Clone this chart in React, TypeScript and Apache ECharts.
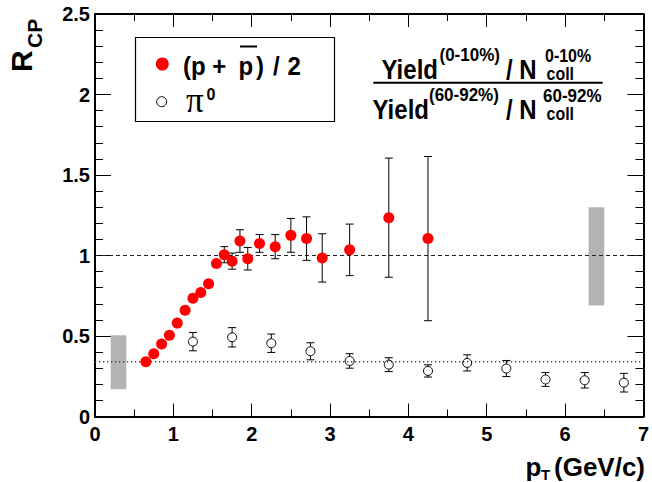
import React, { useEffect, useRef } from "react";
import * as echarts from "echarts";

// (p + pbar)/2 R_CP
const protonPt = [0.65, 0.75, 0.85, 0.95, 1.05, 1.15, 1.25, 1.35, 1.45, 1.55, 1.65, 1.75, 1.85, 1.95, 2.1, 2.3, 2.5, 2.7, 2.9, 3.25, 3.75, 4.25];
const protonRcp = [0.34, 0.39, 0.45, 0.505, 0.58, 0.66, 0.735, 0.77, 0.825, 0.95, 1.005, 0.965, 1.09, 0.98, 1.075, 1.055, 1.125, 1.105, 0.985, 1.035, 1.235, 1.105];
const protonErr = [0, 0, 0, 0, 0, 0, 0, 0, 0, 0, 0.05, 0.05, 0.07, 0.07, 0.055, 0.075, 0.105, 0.135, 0.15, 0.16, 0.37, 0.51];

// pi0 R_CP
const pi0Pt = [1.25, 1.75, 2.25, 2.75, 3.25, 3.75, 4.25, 4.75, 5.25, 5.75, 6.25, 6.75];
const pi0Rcp = [0.465, 0.492, 0.455, 0.405, 0.345, 0.322, 0.283, 0.333, 0.298, 0.23, 0.225, 0.21];
const pi0Err = [0.057, 0.06, 0.057, 0.053, 0.045, 0.043, 0.038, 0.05, 0.05, 0.043, 0.048, 0.058];

// systematic (normalisation) boxes
const boxXLow = [0.2, 6.3];
const boxXHigh = [0.4, 6.5];
const boxYLow = [0.17, 0.69];
const boxYHigh = [0.505, 1.3];

// reference lines
const dashedLevel = 1;
const dottedLevel = 0.34;

const xMin = 0, xMax = 7, xStep = 1;
const yMin = 0, yMax = 2.5, yStep = 0.5;

const SANS = "Liberation Sans";

function txt(text: string, x: number, y: number, size: number, extra: any = {}) {
  return {
    type: "text",
    x,
    y,
    z: 20,
    scaleY: extra.sy || 1,
    scaleX: extra.sx || 1,
    style: {
      text,
      fill: "#000",
      fontSize: size,
      fontWeight: extra.weight || "bold",
      fontFamily: extra.family || SANS,
      align: "left",
      verticalAlign: "middle",
      textAlign: "left",
      textVerticalAlign: "middle",
    },
  };
}

function errorBars(gap: number, capHalf: number) {
  return (_params: any, api: any) => {
    const x = api.value(0);
    const y = api.value(1);
    const e = api.value(2);
    if (!(e > 0)) return null;
    const c = api.coord([x, y]);
    const top = api.coord([x, y + e]);
    const bot = api.coord([x, y - e]);
    const style = { stroke: "#000", lineWidth: 1 };
    const children: any[] = [];
    if (c[1] - gap > top[1]) {
      children.push({ type: "line", shape: { x1: c[0], y1: top[1], x2: c[0], y2: c[1] - gap }, style });
    }
    if (bot[1] > c[1] + gap) {
      children.push({ type: "line", shape: { x1: c[0], y1: c[1] + gap, x2: c[0], y2: bot[1] }, style });
    }
    children.push({ type: "line", shape: { x1: c[0] - capHalf, y1: top[1], x2: c[0] + capHalf, y2: top[1] }, style });
    children.push({ type: "line", shape: { x1: c[0] - capHalf, y1: bot[1], x2: c[0] + capHalf, y2: bot[1] }, style });
    return { type: "group", children };
  };
}

export default function App() {
  const ref = useRef<HTMLDivElement>(null);

  useEffect(() => {
    if (!ref.current) return;
    const chart = echarts.init(ref.current, undefined, { renderer: "svg" });

    const axisLine = { show: true, onZero: false, lineStyle: { color: "#000", width: 2 } };
    const xCommon = {
      type: "value",
      min: xMin,
      max: xMax,
      interval: xStep,
      axisLine,
      axisTick: { show: true, inside: true, length: 13, lineStyle: { color: "#000", width: 1 } },
      minorTick: { show: true, splitNumber: 2, length: 7, lineStyle: { color: "#000", width: 1 } },
      splitLine: { show: false },
      minorSplitLine: { show: false },
    };
    const yCommon = {
      type: "value",
      min: yMin,
      max: yMax,
      interval: yStep,
      axisLine,
      axisTick: { show: true, inside: true, length: 16, lineStyle: { color: "#000", width: 1 } },
      minorTick: { show: true, splitNumber: 5, length: 8, lineStyle: { color: "#000", width: 1 } },
      splitLine: { show: false },
      minorSplitLine: { show: false },
    };
    const labelStyle = { color: "#000", fontFamily: SANS, fontWeight: "bold", fontSize: 20 };

    const protonData = protonPt.map((x, i) => [x, protonRcp[i]]);
    const protonErrData = protonPt.map((x, i) => [x, protonRcp[i], protonErr[i]]);
    const pi0Data = pi0Pt.map((x, i) => [x, pi0Rcp[i]]);
    const pi0ErrData = pi0Pt.map((x, i) => [x, pi0Rcp[i], pi0Err[i]]);
    const boxData = boxXLow.map((x, i) => [x, boxXHigh[i], boxYLow[i], boxYHigh[i]]);

    const big = { sy: 1.15 };
    const sup = { sy: 1.1 };

    const option: any = {
      animation: false,
      backgroundColor: "#fff",
      grid: { left: 95, right: 6, top: 14, bottom: 65.5, containLabel: false },
      xAxis: [
        { ...xCommon, position: "bottom", axisLabel: { ...labelStyle, margin: 7 } },
        { ...xCommon, position: "top", axisLabel: { show: false } },
      ],
      yAxis: [
        { ...yCommon, position: "left", axisLabel: { ...labelStyle, margin: 5 } },
        { ...yCommon, position: "right", axisLabel: { show: false } },
      ],
      series: [
        {
          type: "custom",
          z: 1,
          silent: true,
          data: boxData,
          encode: { x: [0, 1], y: [2, 3] },
          renderItem: (_p: any, api: any) => {
            const p0 = api.coord([api.value(0), api.value(3)]);
            const p1 = api.coord([api.value(1), api.value(2)]);
            return {
              type: "rect",
              shape: { x: p0[0], y: p0[1], width: p1[0] - p0[0], height: p1[1] - p0[1] },
              style: { fill: "#b3b3b3" },
            };
          },
        },
        {
          type: "line",
          z: 2,
          silent: true,
          symbol: "none",
          data: [[xMin, dashedLevel], [xMax, dashedLevel]],
          lineStyle: { color: "#222", width: 1, type: [4, 3] },
        },
        {
          type: "line",
          z: 2,
          silent: true,
          symbol: "none",
          data: [[xMin, dottedLevel], [xMax, dottedLevel]],
          lineStyle: { color: "#444", width: 1.3, type: [1.3, 2.7] },
        },
        {
          type: "custom",
          z: 3,
          silent: true,
          data: protonErrData,
          encode: { x: 0, y: [1, 2] },
          renderItem: errorBars(0, 4),
        },
        {
          type: "custom",
          z: 3,
          silent: true,
          data: pi0ErrData,
          encode: { x: 0, y: [1, 2] },
          renderItem: errorBars(4.5, 4),
        },
        {
          type: "scatter",
          z: 4,
          symbol: "circle",
          symbolSize: 11,
          itemStyle: { color: "#ff0000", opacity: 1 },
          data: protonData,
        },
        {
          type: "scatter",
          z: 4,
          symbol: "circle",
          symbolSize: 9,
          itemStyle: { color: "rgba(0,0,0,0)", borderColor: "#000", borderWidth: 1, opacity: 1 },
          data: pi0Data,
        },
      ],
      graphic: [
        // legend box
        {
          type: "rect",
          z: 10,
          shape: { x: 135.5, y: 37.5, width: 199, height: 84 },
          style: { fill: "#fff", stroke: "#000", lineWidth: 1.2 },
        },
        { type: "circle", z: 20, shape: { cx: 162.3, cy: 64, r: 6.5 }, style: { fill: "#ff0000" } },
        { type: "circle", z: 20, shape: { cx: 161.7, cy: 101.7, r: 5 }, style: { fill: "#fff", stroke: "#000", lineWidth: 1 } },
        txt("(p +", 183, 65.3, 24, sup),
        txt("p", 238.5, 65.3, 24, sup),
        { type: "line", z: 20, shape: { x1: 240, y1: 46.5, x2: 257, y2: 46.5 }, style: { stroke: "#000", lineWidth: 2 } },
        txt(")", 256, 65.3, 24, sup),
        txt("/", 273, 65.3, 24, sup),
        txt("2", 287.5, 65.3, 24, sup),
        txt("\u03c0", 186, 100, 35, { weight: "normal", family: "Liberation Serif" }),
        txt("0", 206.5, 94.5, 16),
        // fraction
        txt("Yield", 381.5, 69.2, 24, big),
        txt("(0-10%)", 439.5, 54.5, 17, sup),
        txt("/ N", 506, 69.2, 24, big),
        txt("0-10%", 545, 56, 16, sup),
        txt("coll", 546.5, 74.5, 16, sup),
        { type: "line", z: 20, shape: { x1: 373.3, y1: 82.7, x2: 602.7, y2: 82.7 }, style: { stroke: "#000", lineWidth: 2 } },
        txt("Yield", 372.5, 109.2, 24, big),
        txt("(60-92%)", 429, 94.5, 17, sup),
        txt("/ N", 506, 109.2, 24, big),
        txt("60-92%", 543, 96, 17, sup),
        txt("coll", 546.5, 114.5, 16, sup),
        // x axis title
        txt("p", 525.5, 466.5, 26),
        txt("T", 541, 474, 15),
        txt("(GeV/c)", 554, 466.5, 26),
        // y axis title
        {
          type: "group",
          x: 31.7,
          y: 72,
          rotation: Math.PI / 2,
          children: [txt("R", 0, -10.4, 30), txt("CP", 24, 2.7, 21)],
        },
      ],
    };

    chart.setOption(option);
    return () => chart.dispose();
  }, []);

  return (
    <div
      ref={ref}
      style={{ position: "absolute", left: 0, top: 0, width: 652, height: 482, background: "#fff" }}
    />
  );
}
